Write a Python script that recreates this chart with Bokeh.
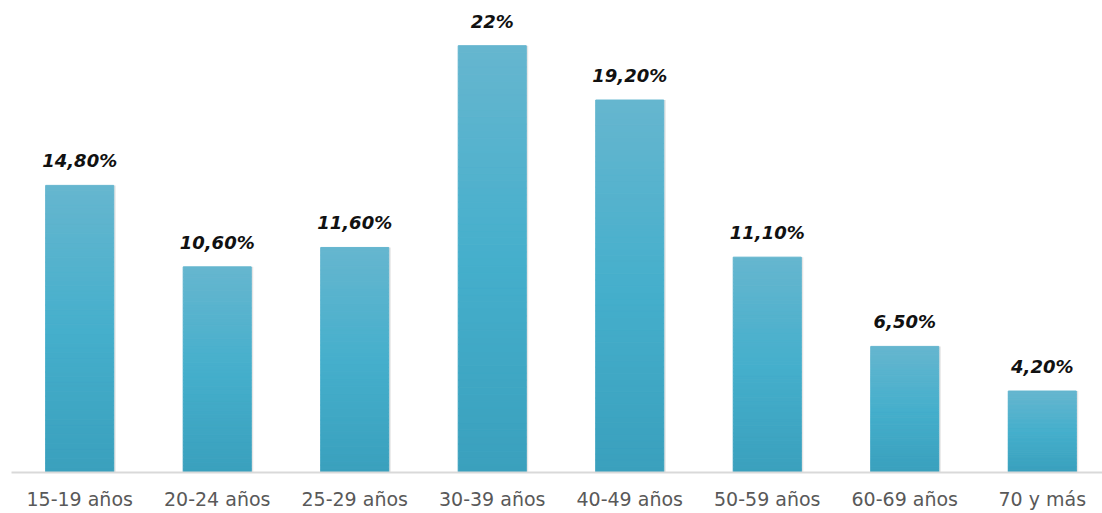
from bokeh.plotting import figure
from bokeh.models import Range1d, FixedTicker, ColumnDataSource
from bokeh.core.properties import value
from bokeh.embed import file_html
from bokeh.resources import INLINE

categories = ["15-19 años", "20-24 años", "25-29 años", "30-39 años",
              "40-49 años", "50-59 años", "60-69 años", "70 y más"]
values = [14.8, 10.6, 11.6, 22.0, 19.2, 11.1, 6.5, 4.2]
labels = ["14,80%", "10,60%", "11,60%", "22%", "19,20%", "11,10%", "6,50%", "4,20%"]

xs = list(range(len(categories)))

p = figure(width=1102, height=513, output_backend="svg", toolbar_location=None,
           x_range=Range1d(-0.496, 7.438), y_range=Range1d(0, 24.33),
           min_border_left=11, min_border_right=0, min_border_top=0, min_border_bottom=41)
p.outline_line_color = None
p.background_fill_color = "white"
p.border_fill_color = "white"
p.grid.visible = False
p.yaxis.visible = False

# gradient bars: slices, lighter at top, darker at bottom
def hex2rgb(h):
    h = h.lstrip("#")
    return tuple(int(h[i:i + 2], 16) for i in (0, 2, 4))

stops = [(0.0, hex2rgb("#3aa0bd")), (0.5, hex2rgb("#45afcc")), (1.0, hex2rgb("#66b6cf"))]

def color_at(t):
    for (t0, c0), (t1, c1) in zip(stops[:-1], stops[1:]):
        if t0 <= t <= t1:
            f = (t - t0) / (t1 - t0)
            return "#%02x%02x%02x" % tuple(int(round(a + (b - a) * f)) for a, b in zip(c0, c1))
    return "#%02x%02x%02x" % stops[-1][1]

N = 60
sx, sb, st, sc = [], [], [], []
for x, v in zip(xs, values):
    for i in range(N):
        sx.append(x)
        sb.append(v * i / N)
        st.append(v * (i + 1) / N)
        sc.append(color_at((i + 0.5) / N))

# soft shadow
p.vbar(x=[x + 0.012 for x in xs], top=values, bottom=0, width=0.5,
       fill_color="#000000", fill_alpha=0.10, line_color=None)
p.vbar(x=sx, bottom=sb, top=st, width=0.495, fill_color=sc, line_color=sc, line_width=1)

src = ColumnDataSource(dict(x=xs, y=[v + 0.72 for v in values], t=labels))
p.text(x="x", y="y", text="t", source=src, text_align="center", text_baseline="bottom",
       text_font=value("DejaVu Sans"), text_font_style="bold italic",
       text_font_size="18px", text_color="#111111")

ax = p.xaxis[0]
ax.ticker = FixedTicker(ticks=xs)
ax.major_label_overrides = {i: c for i, c in enumerate(categories)}
ax.major_tick_line_color = None
ax.minor_tick_line_color = None
ax.axis_line_color = "#d9d9d9"
ax.axis_line_width = 2
ax.major_label_standoff = 9
ax.major_label_text_font = "DejaVu Sans"
ax.major_label_text_font_size = "19px"
ax.major_label_text_color = "#595959"

open("out.html", "w").write(file_html(p, INLINE))
